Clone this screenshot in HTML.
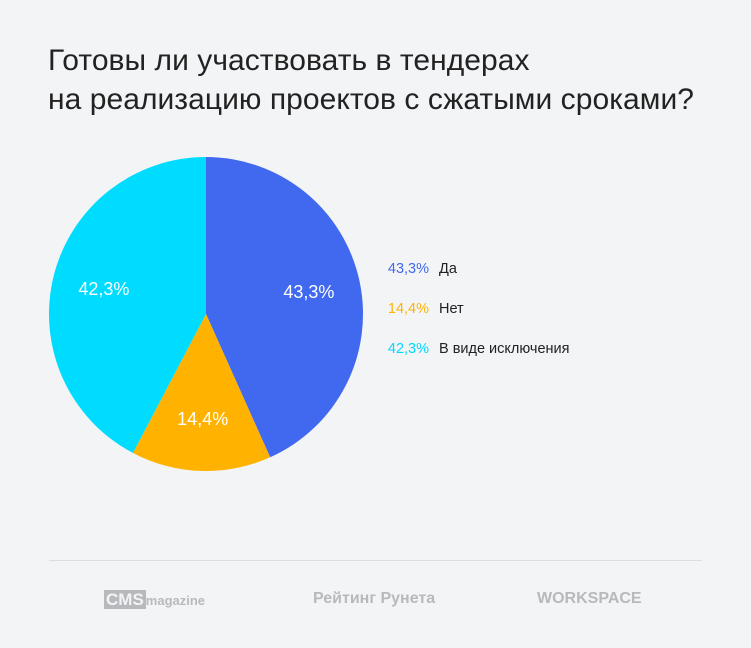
<!DOCTYPE html>
<html><head><meta charset="utf-8"><style>
body{margin:0;width:751px;height:648px;background:#f3f4f6;font-family:"Liberation Sans","Noto Sans CJK SC",sans-serif;position:relative;overflow:hidden}
.t{position:absolute;left:48px;top:41px;font-size:30px;line-height:39px;color:#222;font-weight:300;letter-spacing:0.05px}
.leg{position:absolute;left:370px;font-size:14.5px;color:#222}
.leg span.p{display:inline-block;width:59px;text-align:right;margin-right:10px}
.line{position:absolute;left:49px;top:560px;width:653px;height:1px;background:#dcdde0}
.f{position:absolute;top:590px;font-size:16px;font-weight:bold;color:#b8b9bc}
</style></head><body>
<div class="t">Готовы ли участвовать в тендерах<br>на реализацию проектов с сжатыми сроками?</div>
<svg id="pie" width="751" height="648" style="position:absolute;left:0;top:0"></svg>
<div class="leg" style="top:261px"><span class="p" style="color:#4169ef">43,3%</span>Да</div>
<div class="leg" style="top:301px"><span class="p" style="color:#ffb300">14,4%</span>Нет</div>
<div class="leg" style="top:341px"><span class="p" style="color:#00d9ff">42,3%</span>В виде исключения</div>
<div class="line"></div>
<div class="f" style="left:104px"><span style="background:#b8b9bc;color:#f3f4f6;padding:0 2px;font-size:17px">CMS</span><span style="font-size:13px">magazine</span></div>
<div class="f" style="left:313px">Рейтинг Рунета</div>
<div class="f" style="left:537px">WORKSPACE</div>
<script>
const categories=["Да","Нет","В виде исключения"];
const values=[43.3,14.4,42.3];
const labels=["43,3%","14,4%","42,3%"];
const colors=["#4169ef","#ffb300","#00dcff"];
const svg=document.getElementById('pie');
const cx=206,cy=314,r=157,ns="http://www.w3.org/2000/svg";
const total=values.reduce((a,b)=>a+b,0);
let a0=0;
values.forEach((v,i)=>{
  const a1=a0+v/total*2*Math.PI;
  const p=a=>[cx+r*Math.sin(a),cy-r*Math.cos(a)];
  const [x0,y0]=p(a0),[x1,y1]=p(a1);
  const path=document.createElementNS(ns,'path');
  path.setAttribute('d',`M${cx},${cy}L${x0},${y0}A${r},${r} 0 ${a1-a0>Math.PI?1:0} 1 ${x1},${y1}Z`);
  path.setAttribute('fill',colors[i]);
  
  
  svg.appendChild(path);
  const m=(a0+a1)/2,lr=r*0.67;
  const t=document.createElementNS(ns,'text');
  t.setAttribute('x',cx+lr*Math.sin(m));
  t.setAttribute('y',cy-lr*Math.cos(m)+6);
  t.setAttribute('text-anchor','middle');
  t.setAttribute('fill','#fff');
  t.setAttribute('font-size','18');
  t.setAttribute('font-family','Liberation Sans, sans-serif');
  t.textContent=labels[i];
  
  
  svg.appendChild(t);
  a0=a1;
});
</script>
</body></html>
